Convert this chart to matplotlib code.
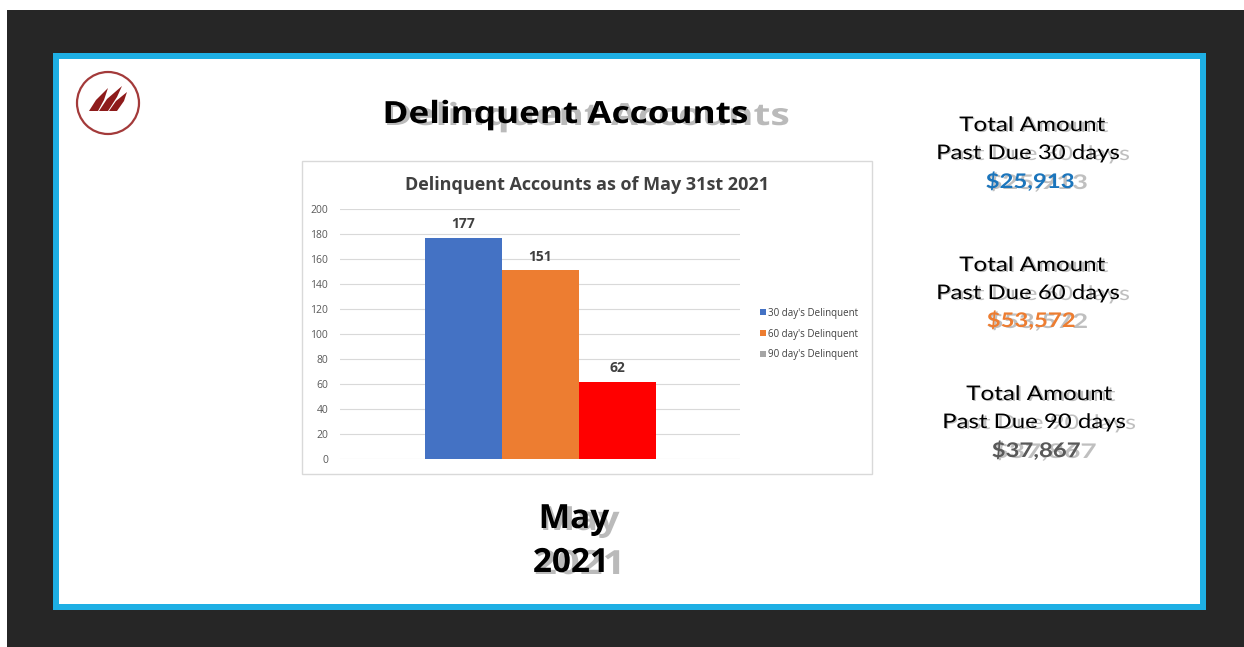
import matplotlib
matplotlib.use("Agg")
import matplotlib.pyplot as plt
from matplotlib.patches import Rectangle, Circle, Polygon, Patch
from matplotlib.patheffects import AbstractPathEffect
from matplotlib.transforms import Affine2D
import matplotlib.colors as mcolors

# ---------------- data ----------------
series_names = ["30 day's Delinquent", "60 day's Delinquent", "90 day's Delinquent"]
series_values = [177, 151, 62]
bar_colors = ["#4472C4", "#ED7D31", "#FF0000"]
legend_colors = ["#4472C4", "#ED7D31", "#A5A5A5"]
yticks = [0, 20, 40, 60, 80, 100, 120, 140, 160, 180, 200]
chart_title = "Delinquent Accounts as of May 31st 2021"
page_title = "Delinquent Accounts"
period_month = "May"
period_year = "2021"
due_days = ["30", "60", "90"]
due_amounts = ["$25,913", "$53,572", "$37,867"]
amount_colors = ["#1B75BC", "#ED7D31", "#595959"]

W, H = 1244, 647
fig = plt.figure(figsize=(W / 100, H / 100), dpi=100, facecolor="white")

# background axes in pixel coordinates
bg = fig.add_axes([0, 0, 1, 1])
bg.set_xlim(0, W)
bg.set_ylim(H, 0)
bg.axis("off")
bg.add_patch(Rectangle((7, 10), W - 7, H - 10, color="#262626", lw=0))
bg.add_patch(Rectangle((53, 53), 1206 - 53, 610 - 53, color="#1EAFE4", lw=0))
bg.add_patch(Rectangle((59, 59), 1200 - 59, 604 - 59, color="white", lw=0))
# chart frame
bg.add_patch(Rectangle((302, 161), 872 - 302, 474 - 161, facecolor="white",
                       edgecolor="#D9D9D9", lw=1))

# logo
bg.add_patch(Circle((108, 103), 31, facecolor="white", edgecolor="#A33A3A", lw=1.6))
stripes = [
    [(89, 111), (98, 111), (104, 100), (108, 88), (96, 100)],
    [(99, 111), (108, 111), (117, 97), (122, 86), (107, 99)],
    [(109, 111), (117, 111), (124, 101), (127, 92), (116, 101)],
]
for pts in stripes:
    bg.add_patch(Polygon(pts, closed=True, color="#8E1B1B", lw=0))


class FancyText(AbstractPathEffect):
    """Draws text horizontally stretched by sx, with a gray shadow that is
    stretched further (ssx) from the text's left edge and offset by (dx, dy) px."""

    def __init__(self, sx=1.0, ssx=1.08, dx=1.0, dy=2.0, scolor="#8C8C8C", salpha=0.7):
        super().__init__()
        self.sx, self.ssx, self.dx, self.dy = sx, ssx, dx, dy
        self.scolor, self.salpha = scolor, salpha

    def draw_path(self, renderer, gc, tpath, affine, rgbFace=None):
        ext = tpath.get_extents()
        c = (ext.x0 + ext.x1) / 2
        left = c - self.sx * (c - ext.x0)
        main = Affine2D().translate(-c, 0).scale(self.sx, 1).translate(c, 0)
        shadow = main + Affine2D().translate(-left, 0).scale(self.ssx, 1).translate(left, 0)
        gc0 = renderer.new_gc()
        gc0.copy_properties(gc)
        gc0.set_alpha(self.salpha)
        gc0.set_linewidth(0)
        renderer.draw_path(gc0, tpath, shadow + affine + Affine2D().translate(self.dx, -self.dy),
                           mcolors.to_rgb(self.scolor))
        gc0.restore()
        renderer.draw_path(gc, tpath, main + affine, rgbFace)


def fancy_text(x, y, s, size, weight="normal", color="black", family="Open Sans",
               sx=1.0, ssx=1.08, dx=1.0, dy=1.5, salpha=0.6):
    bg.text(x, y, s, ha="center", va="baseline", fontsize=size, fontweight=weight,
            color=color, family=family,
            path_effects=[FancyText(sx=sx, ssx=ssx, dx=dx, dy=dy, salpha=salpha)])


# titles
fancy_text(565, 123, page_title, 22, weight="bold", sx=1.15, ssx=1.11, dx=1.5, dy=2)
fancy_text(574, 528, period_month, 24, weight="bold", ssx=1.13, dx=1.5, dy=2)
fancy_text(571, 572, period_year, 24, weight="bold", ssx=1.2, dx=1.5, dy=2)

# right side totals
blocks_y = [(131, 159, 188), (271, 299, 327), (400, 428, 457)]
blocks_x = [(1032, 1028, 1030), (1032, 1028, 1031), (1039, 1034, 1036)]
amount_ssx = [1.14, 1.13, 1.17]
for d, amt, col, (y1, y2, y3), (x1, x2, x3), assx in zip(
        due_days, due_amounts, amount_colors, blocks_y, blocks_x, amount_ssx):
    fancy_text(x1, y1, "Total Amount", 14.5, family="Lato", sx=1.2, ssx=1.015,
               dx=1, dy=1, salpha=0.55)
    fancy_text(x2, y2, f"Past Due {d} days", 14.5, family="Lato", sx=1.19, ssx=1.05,
               dx=1, dy=1, salpha=0.55)
    fancy_text(x3, y3, amt, 14.5, weight="bold", color=col, family="Lato", sx=1.19,
               ssx=assx, dx=1, dy=1, salpha=0.55)

# ---------------- chart ----------------
ax = fig.add_axes([340 / W, 1 - 459 / H, 400 / W, 250 / H])
ax.set_facecolor("none")
w = 77 / 400
xs = [-w, 0, w]
bars = ax.bar(xs, series_values, width=w, color=bar_colors, zorder=3)
for b, v in zip(bars, series_values):
    ax.text(b.get_x() + b.get_width() / 2, v + 5, str(v), ha="center", va="bottom",
            fontsize=10, fontweight="bold", color="#404040", family="Open Sans")
ax.set_xlim(-0.5, 0.5)
ax.set_ylim(0, 200)
ax.set_yticks(yticks)
ax.set_yticklabels([str(t) for t in yticks], family="Open Sans", fontsize=7.5,
                   color="#595959")
ax.tick_params(axis="y", length=0, pad=8.5)
ax.set_xticks([])
ax.grid(axis="y", color="#D9D9D9", lw=0.8, zorder=0)
for s in ax.spines.values():
    s.set_visible(False)

fig.text(587 / W, 1 - 190 / H, chart_title, ha="center", va="baseline", fontsize=13,
         fontweight="bold", color="#404040", family="Open Sans")

handles = [Patch(facecolor=c, edgecolor="none") for c in legend_colors]
leg = fig.legend(handles, series_names, loc="center left",
                 bbox_to_anchor=(751 / W, 1 - 334 / H), frameon=False,
                 prop={"family": "Open Sans", "size": 7}, handlelength=0.6,
                 handleheight=0.6, handletextpad=0.3, labelspacing=1.0,
                 labelcolor="#404040")

fig.savefig("out.png", dpi=100, facecolor="white")
